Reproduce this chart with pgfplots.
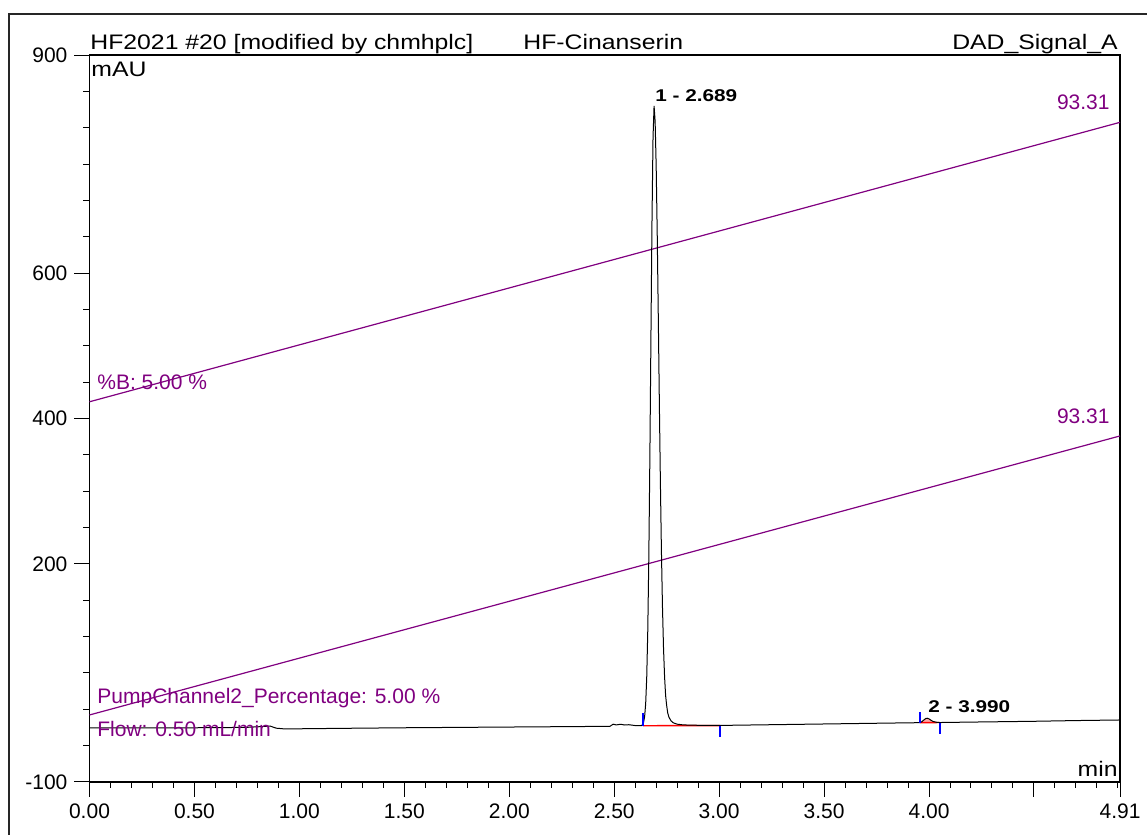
\documentclass[border=0pt]{standalone}
\usepackage{fontspec}
\setmainfont{Liberation Sans}
\newfontfamily\widefont[FakeStretch=1.18]{Liberation Sans}
\newfontfamily\boldwide[FakeStretch=1.22]{Liberation Sans Bold}
\usepackage{pgfplots}
\pgfplotsset{compat=1.18}
\definecolor{gpurple}{RGB}{128,0,128}
\definecolor{mblue}{RGB}{0,0,255}
\pgfplotstableread{
t v
0.00 -25.5
0.20 -25.6
0.40 -25.5
0.60 -25.3
0.75 -24.8
0.82 -23.8
0.86 -23.0
0.89 -26.0
0.93 -27.0
1.00 -26.8
1.20 -26.2
1.50 -25.4
1.80 -24.8
2.00 -24.4
2.30 -23.8
2.48 -23.4
2.495 -20.5
2.51 -21.5
2.53 -20.6
2.55 -21.6
2.57 -21.2
2.60 -22.4
2.630 -22.5
2.635 -21.0
2.640 -17.8
2.645 -10.0
2.650 8.0
2.655 44.0
2.660 108.5
2.665 210.0
2.670 348.0
2.675 511.0
2.680 669.5
2.685 786.5
2.690 830.0
2.695 809.0
2.700 747.0
2.705 654.0
2.710 542.0
2.715 425.0
2.720 314.0
2.725 218.0
2.730 141.0
2.735 84.0
2.740 45.0
2.745 19.0
2.750 5.0
2.755 -5.0
2.761 -11.0
2.771 -16.0
2.781 -18.5
2.800 -20.5
2.830 -21.5
2.900 -22.0
3.000 -22.2
3.200 -21.4
3.500 -20.2
3.800 -19.0
3.956 -18.4
3.965 -17.2
3.975 -14.8
3.985 -12.6
3.992 -12.3
4.000 -13.2
4.010 -15.2
4.020 -16.8
4.035 -17.8
4.051 -18.2
4.200 -17.6
4.500 -16.5
4.700 -15.5
4.910 -14.7
}\chrom
\begin{document}
\begin{tikzpicture}
\useasboundingbox (0,0) rectangle (573.5pt,417.5pt);
\draw[line width=1pt, black!85] (4.5pt,-5pt) -- (4.5pt,410.5pt) -- (580pt,410.5pt);
\begin{axis}[
  at={(44.75pt,26.5pt)}, anchor=south west,
  scale only axis, width=515.25pt, height=363.5pt,
  xmin=0, xmax=4.91, ymin=-100, ymax=900,
  axis line style={line width=0.6pt, black},
  tick pos=left, tick align=outside,
  major tick length=7.5pt, minor tick length=3pt,
  every tick/.style={black, line width=0.5pt},
  xtick={0,0.5,1,1.5,2,2.5,3,3.5,4,4.5,4.91},
  xticklabels={0.00,0.50,1.00,1.50,2.00,2.50,3.00,3.50,4.00,{},4.91},
  minor xtick={0.1,0.2,0.3,0.4,0.6,0.7,0.8,0.9,1.1,1.2,1.3,1.4,1.6,1.7,1.8,1.9,2.1,2.2,2.3,2.4,2.6,2.7,2.8,2.9,3.1,3.2,3.3,3.4,3.6,3.7,3.8,3.9,4.1,4.2,4.3,4.4,4.6,4.7,4.8,4.9},
  ytick={-100,200,400,600,900},
  yticklabels={-100,200,400,600,900},
  minor ytick={-50,0,50,100,150,250,300,350,450,500,550,650,700,750,800,850},
  every tick label/.append style={font=\fontsize{10.5}{12}\selectfont, black},
  clip=true,
]
\addplot[gpurple, line width=0.6pt] coordinates {(0,423) (4.91,807.4)};
\addplot[gpurple, line width=0.6pt] coordinates {(0,-7.8) (4.91,376)};
\addplot[fill=red!35, draw=none] coordinates {(3.956,-18.4) (3.965,-17.2) (3.975,-14.8) (3.985,-12.6) (3.992,-12.3) (4.000,-13.2) (4.010,-15.2) (4.020,-16.8) (4.035,-17.8) (4.051,-18.2)} --cycle;
\addplot[red, line width=0.7pt] coordinates {(2.637,-22.6) (3.004,-22.4)};
\addplot[red, line width=0.7pt] coordinates {(3.956,-18.4) (4.051,-18.2)};
\addplot[black, line width=0.5pt] table[x=t, y=v] {\chrom};
\addplot[mblue, line width=0.8pt] coordinates {(2.637,-22.6) (2.637,-5.6)};
\addplot[mblue, line width=0.8pt] coordinates {(3.004,-22.4) (3.004,-37.6)};
\addplot[mblue, line width=0.8pt] coordinates {(3.956,-18.4) (3.956,-3.7)};
\addplot[mblue, line width=0.8pt] coordinates {(4.051,-18.2) (4.051,-34)};
\end{axis}
\begin{scope}[every node/.style={inner sep=0pt, font=\fontsize{10.5}{12}\selectfont}]
\node[anchor=base west, font=\fontsize{10.5}{12}\widefont] at (45pt,392.5pt) {HF2021 \#20 [modified by chmhplc]};
\node[anchor=base west, font=\fontsize{10.5}{12}\widefont] at (261.5pt,392.5pt) {HF-Cinanserin};
\node[anchor=base east, font=\fontsize{10.5}{12}\widefont] at (559pt,392.5pt) {DAD\_Signal\_A};
\node[anchor=base west, font=\fontsize{10.5}{12}\widefont] at (45.5pt,379pt) {mAU};
\node[anchor=base east, font=\fontsize{10.5}{12}\widefont] at (559pt,29pt) {min};
\node[anchor=base west, font=\fontsize{8.5}{10}\boldwide] at (327.5pt,366.6pt) {1 - 2.689};
\node[anchor=base west, font=\fontsize{8.5}{10}\boldwide] at (464pt,61.2pt) {2 - 3.990};
\node[anchor=base east, text=gpurple] at (555pt,362.5pt) {93.31};
\node[anchor=base east, text=gpurple] at (555pt,205.9pt) {93.31};
\node[anchor=base west, text=gpurple] at (48.5pt,222.5pt) {\%B: 5.00 \%};
\node[anchor=base west, text=gpurple] at (48.5pt,65.5pt) {PumpChannel2\_Percentage: 5.00 \%};
\node[anchor=base west, text=gpurple] at (48.5pt,49.2pt) {Flow: 0.50 mL/min};
\end{scope}
\end{tikzpicture}
\end{document}
